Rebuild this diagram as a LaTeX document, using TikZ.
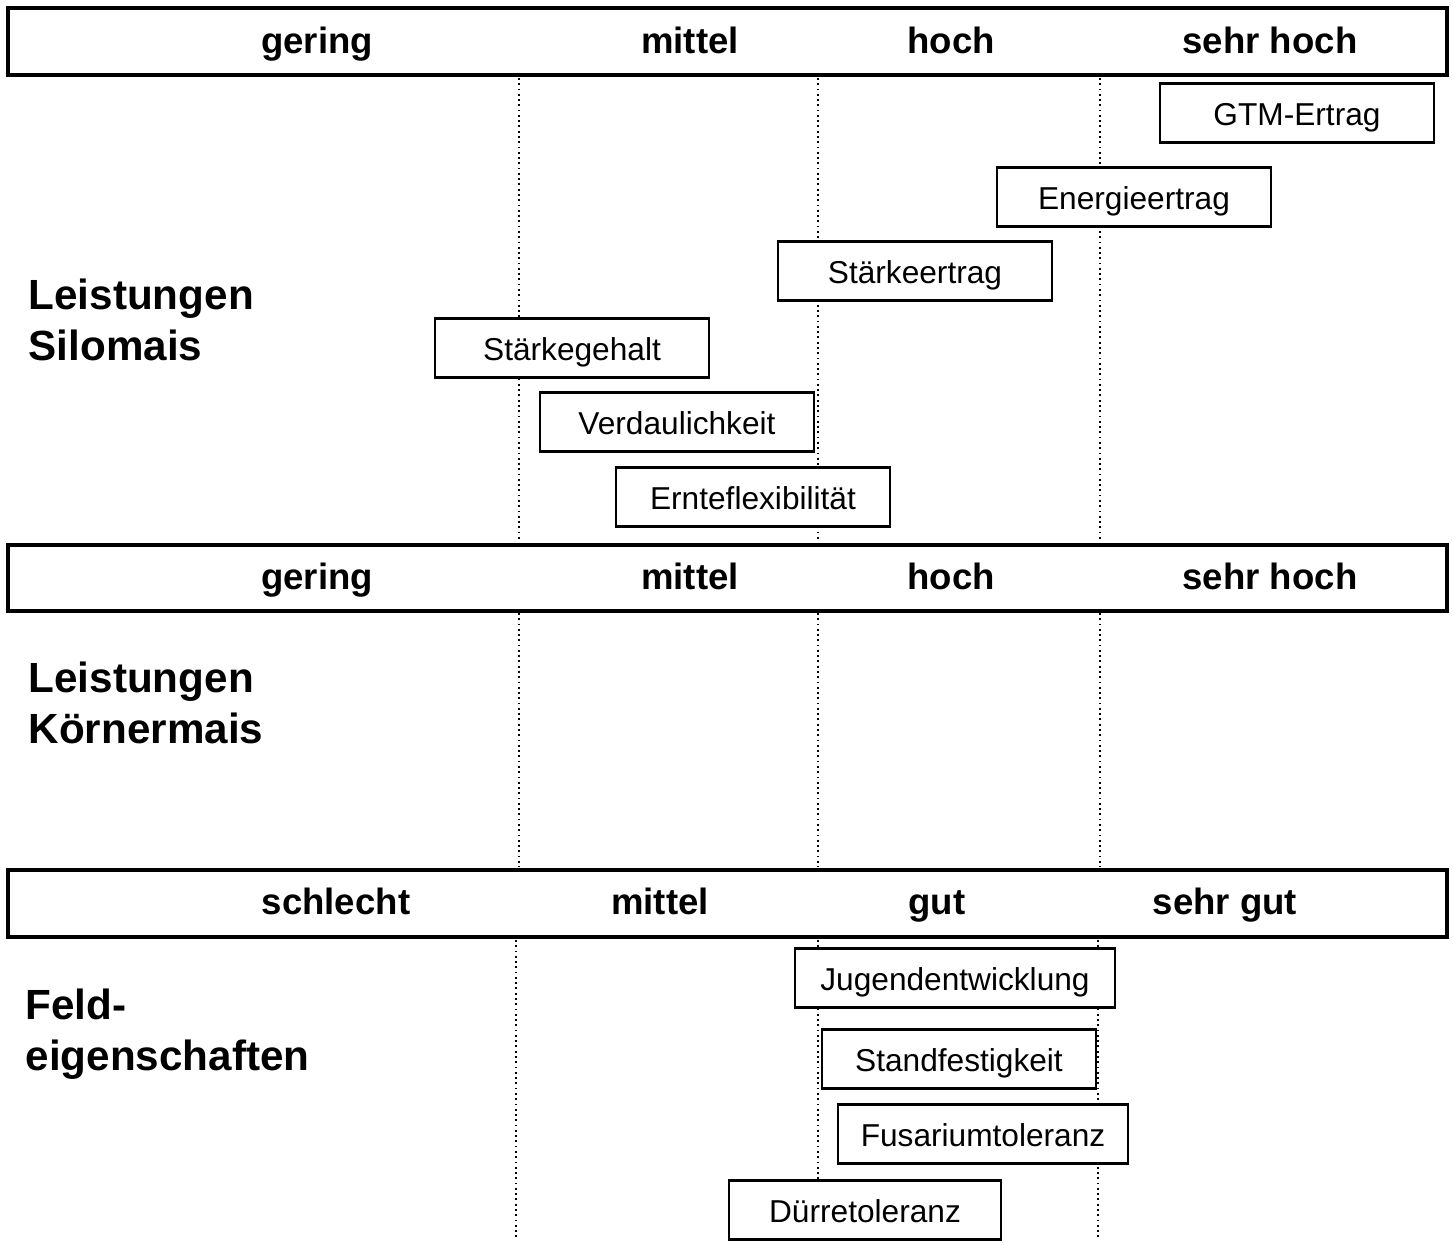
\documentclass[tikz,border=0pt]{standalone}
\usepackage{fontspec}
\setmainfont{Liberation Sans}

\tikzset{
  bar/.style={draw, line width=1pt},
  level/.style={font=\fontsize{10.4}{12}\selectfont\bfseries, inner sep=0pt, text height=0.72em, text depth=0pt},
  group/.style={font=\fontsize{12}{14.4}\selectfont\bfseries, align=left, anchor=west, inner sep=0pt},
  trait/.style={draw, fill=white, line width=0.6pt, minimum width=2.74cm, minimum height=0.59cm, inner sep=0pt,
    text height=0.72em, text depth=0pt, font=\fontsize{9}{11}\selectfont},
  grid/.style={line width=0.5pt, dash pattern=on 0.5pt off 1pt}
}

\begin{document}
\begin{tikzpicture}[x=0.01cm, y=-0.01cm]
\useasboundingbox (0,0) rectangle (1453,1246);

% scale bars
\draw[bar] (8,8) rectangle (1447,75);
\draw[bar] (8,545) rectangle (1447,611);
\draw[bar] (8,870) rectangle (1447,937);

% dotted class borders
\foreach \x in {519, 818, 1100} {
  \draw[grid] (\x,78) -- (\x,542);
  \draw[grid] (\x,613) -- (\x,867);
}
\foreach \x in {516, 818, 1098} {
  \draw[grid] (\x,940) -- (\x,1240);
}

% first bar
\node[level] (gering_a) at (317,41) {gering};
\node[level] (mittel_a) at (690,41) {mittel};
\node[level] (hoch_a) at (951,41) {hoch};
\node[level] (sehrhoch_a) at (1270,41) {sehr hoch};

% second bar
\node[level] (gering_b) at (317,577) {gering};
\node[level] (mittel_b) at (690,577) {mittel};
\node[level] (hoch_b) at (951,577) {hoch};
\node[level] (sehrhoch_b) at (1270,577) {sehr hoch};

% third bar
\node[level] (schlecht) at (336,902) {schlecht};
\node[level] (mittel_c) at (660,902) {mittel};
\node[level] (gut) at (937,902) {gut};
\node[level] (sehrgut) at (1225,902) {sehr gut};

% group labels
\node[group] (silomais) at (28,320) {Leistungen\\Silomais};
\node[group] (koernermais) at (28,703) {Leistungen\\Körnermais};
\node[group] (feld) at (25,1034) {Feld-\\eigenschaften};

% silomais traits
\node[trait] (gtm) at (1297,113) {GTM-Ertrag};
\node[trait] (energie) at (1134,197) {Energieertrag};
\node[trait] (staerkeertrag) at (915,271) {Stärkeertrag};
\node[trait] (staerkegehalt) at (572,348) {Stärkegehalt};
\node[trait] (verdaulich) at (677,422) {Verdaulichkeit};
\node[trait] (ernte) at (753,497) {Ernteflexibilität};

% field traits
\node[trait, minimum width=3.2cm] (jugend) at (955,978) {Jugendentwicklung};
\node[trait] (stand) at (959,1059) {Standfestigkeit};
\node[trait, minimum width=2.9cm] (fusarium) at (983,1134) {Fusariumtoleranz};
\node[trait, minimum width=2.72cm] (duerre) at (865,1210) {Dürretoleranz};

\end{tikzpicture}
\end{document}
